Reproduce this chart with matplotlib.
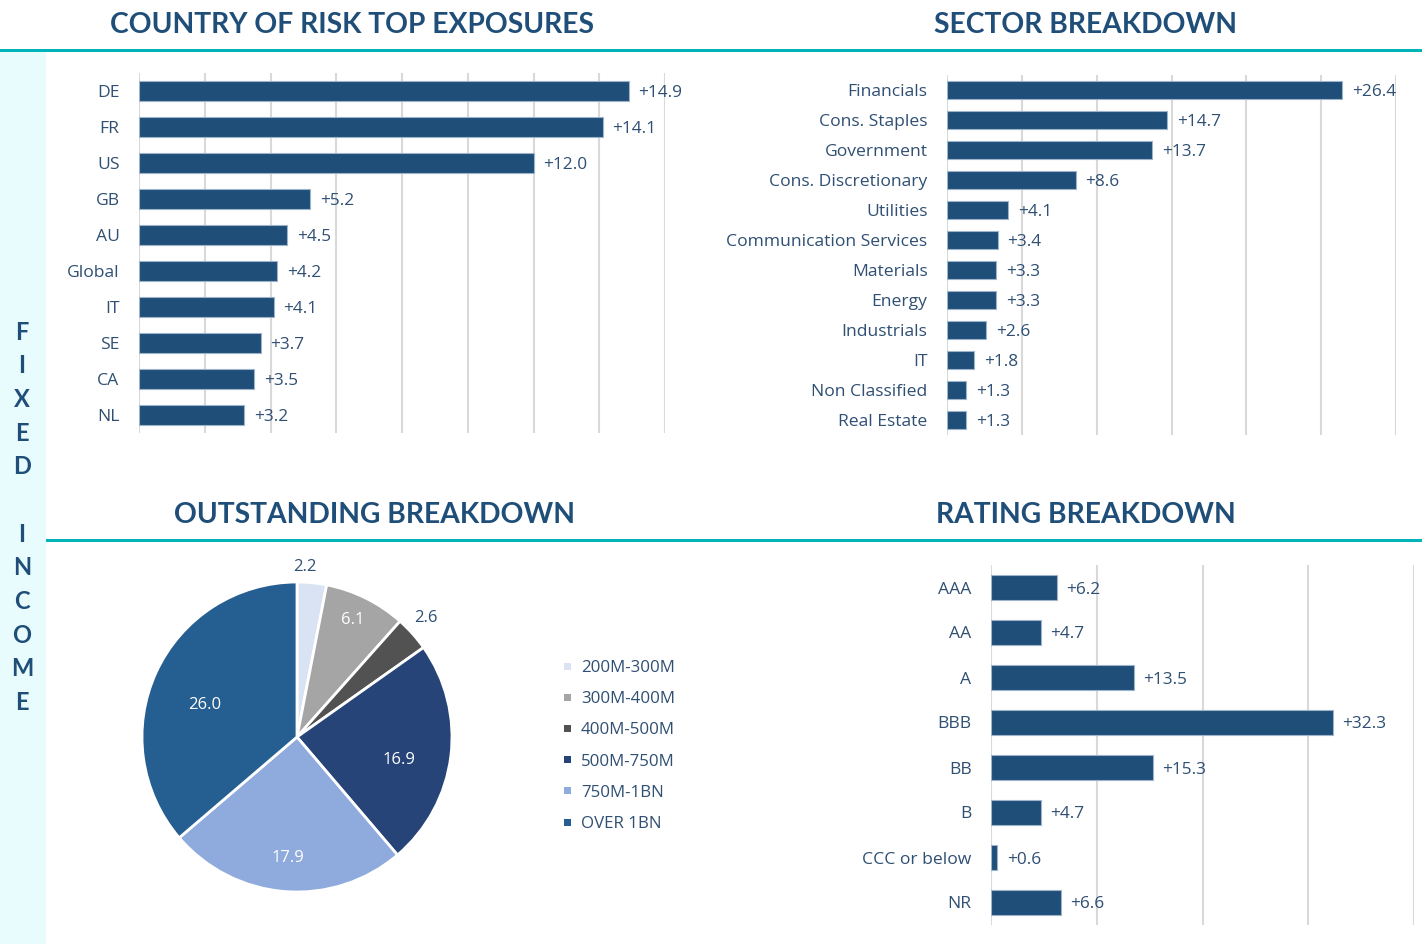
import matplotlib.pyplot as plt
from matplotlib.patches import Rectangle
import numpy as np

plt.rcParams['font.family'] = ['Open Sans', 'DejaVu Sans']

# data
countries = ['DE', 'FR', 'US', 'GB', 'AU', 'Global', 'IT', 'SE', 'CA', 'NL']
country_vals = [14.9, 14.1, 12.0, 5.2, 4.5, 4.2, 4.1, 3.7, 3.5, 3.2]

sectors = ['Financials', 'Cons. Staples', 'Government', 'Cons. Discretionary', 'Utilities',
           'Communication Services', 'Materials', 'Energy', 'Industrials', 'IT',
           'Non Classified', 'Real Estate']
sector_vals = [26.4, 14.7, 13.7, 8.6, 4.1, 3.4, 3.3, 3.3, 2.6, 1.8, 1.3, 1.3]

ratings = ['AAA', 'AA', 'A', 'BBB', 'BB', 'B', 'CCC or below', 'NR']
rating_vals = [6.2, 4.7, 13.5, 32.3, 15.3, 4.7, 0.6, 6.6]

buckets = ['200M-300M', '300M-400M', '400M-500M', '500M-750M', '750M-1BN', 'OVER 1BN']
bucket_vals = [2.2, 6.1, 2.6, 16.9, 17.9, 26.0]
bucket_colors = ['#DAE3F3', '#A5A5A5', '#525252', '#264478', '#8FAADC', '#255E91']

NAVY = '#1F4E79'
TEXT = '#2F4F73'
TEAL = '#00B3B8'
GRID = '#D9D9D9'
W, H = 1422, 944

fig = plt.figure(figsize=(W / 100, H / 100), dpi=100)


def px_axes(x0, y0, x1, y1):
    return fig.add_axes([x0 / W, 1 - y1 / H, (x1 - x0) / W, (y1 - y0) / H])


# frame: sidebar and teal rules
fig.patches.append(Rectangle((0, 0), 46 / W, 1 - 52 / H, transform=fig.transFigure,
                             facecolor='#E8FCFD', edgecolor='none', zorder=0))
fig.patches.append(Rectangle((0, 1 - 52 / H), 1, 3 / H, transform=fig.transFigure,
                             facecolor=TEAL, edgecolor='none'))
fig.patches.append(Rectangle((46 / W, 1 - 542 / H), 1 - 46 / W, 3 / H, transform=fig.transFigure,
                             facecolor=TEAL, edgecolor='none'))

side = 'FIXED INCOME'
for i, ch in enumerate(side):
    fig.text(22 / W, 1 - (332 + i * 33.7) / H, ch, ha='center', va='center',
             fontsize=17, fontweight='bold', color=NAVY, family='Lato')

titles = [('COUNTRY OF RISK TOP EXPOSURES', 352, 25), ('SECTOR BREAKDOWN', 1086, 25),
          ('OUTSTANDING BREAKDOWN', 374, 515), ('RATING BREAKDOWN', 1086, 515)]
for t, x, y in titles:
    fig.text(x / W, 1 - y / H, t, ha='center', va='center', fontsize=20.3,
             fontweight='bold', color=NAVY, family='Lato')


def bar_panel(ax, labels, vals, xmax, step, height):
    y = np.arange(len(labels))
    ax.barh(y, vals, height=height, color=NAVY, edgecolor='#9DB3CA', linewidth=0.8, zorder=3)
    for yi, v in zip(y, vals):
        ax.annotate(f'+{v:.1f}', (v, yi), xytext=(7, 0), textcoords='offset points',
                    va='center_baseline', ha='left', fontsize=12.4, color=TEXT, zorder=4)
    ax.set_xlim(0, xmax)
    ax.set_ylim(len(labels) - 0.5, -0.5)
    ax.set_xticks(np.arange(0, xmax + 0.01, step))
    ax.set_xticklabels([])
    ax.set_yticks(y)
    ax.set_yticklabels(labels, fontsize=12.6, color=TEXT, va='center_baseline')
    ax.tick_params(length=0, axis='y', pad=14)
    ax.tick_params(length=0, axis='x')
    ax.grid(axis='x', color=GRID, linewidth=1.5, zorder=0)
    ax.set_axisbelow(True)
    for s in ax.spines.values():
        s.set_visible(False)


ax1 = px_axes(139, 73, 665, 433)
bar_panel(ax1, countries, country_vals, 16, 2, 0.56)

ax2 = px_axes(947, 75, 1396, 435)
bar_panel(ax2, sectors, sector_vals, 30, 5, 0.57)

ax3 = px_axes(991, 565, 1414, 925)
bar_panel(ax3, ratings, rating_vals, 40, 10, 0.56)

# pie
ax4 = px_axes(142, 582, 452, 892)
wedges, _ = ax4.pie(bucket_vals, colors=bucket_colors, startangle=90, counterclock=False,
                    radius=1, wedgeprops=dict(edgecolor='white', linewidth=2))
ax4.set_xlim(-1, 1)
ax4.set_ylim(-1, 1)
ax4.set_aspect('equal')
label_r = [1.11, 0.85, 1.14, 0.67, 0.77, 0.635]
label_da = [2.8, 1.4, 1.4, -4.4, 0.2, 4.5]
label_c = [TEXT, 'white', TEXT, 'white', 'white', 'white']
for w, v, r, da, c in zip(wedges, bucket_vals, label_r, label_da, label_c):
    ang = np.deg2rad((w.theta1 + w.theta2) / 2 + da)
    ax4.text(r * np.cos(ang), r * np.sin(ang), f'{v:.1f}', ha='center', va='center_baseline',
             fontsize=12, color=c)

for i, (b, c) in enumerate(zip(buckets, bucket_colors)):
    yy = 1 - (666 + i * 31.2) / H
    fig.patches.append(Rectangle((564 / W, yy - 3.5 / H), 7 / W, 7 / H, transform=fig.transFigure,
                                 facecolor=c, edgecolor='none'))
    fig.text(581 / W, yy, b, ha='left', va='center_baseline', fontsize=12.2, color=TEXT)

fig.savefig('out.png', dpi=100, facecolor='white')
